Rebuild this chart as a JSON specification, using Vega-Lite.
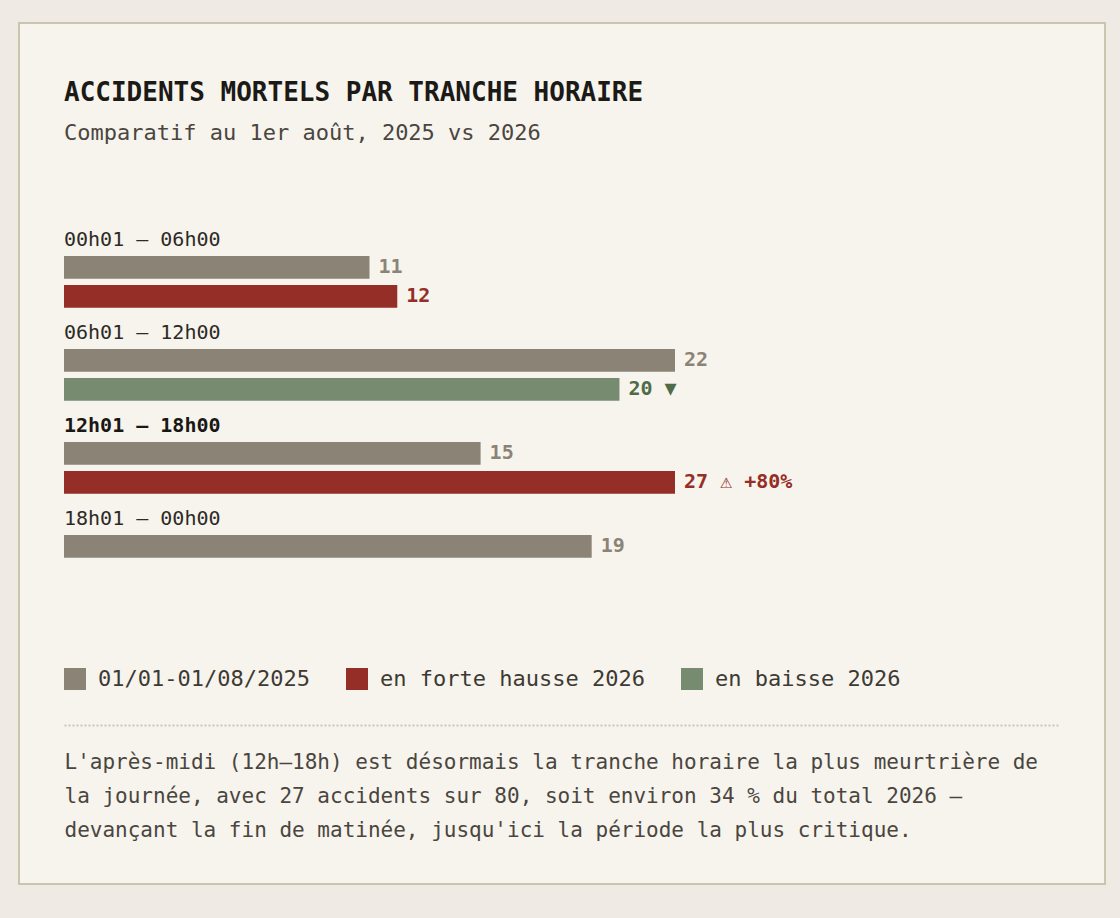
{
  "$schema": "https://vega.github.io/schema/vega-lite/v6.json",
  "autosize": {"type": "none"},
  "width": 1086,
  "height": 861,
  "padding": {"left": 19, "top": 23, "right": 15, "bottom": 34},
  "background": "#efebe4",
  "title": {
    "text": "ACCIDENTS MORTELS PAR TRANCHE HORAIRE",
    "subtitle": "Comparatif au 1er août, 2025 vs 2026",
    "anchor": "start",
    "frame": "group",
    "dx": 45,
    "offset": -121,
    "font": "DejaVu Sans Mono",
    "fontSize": 26,
    "fontWeight": "bold",
    "color": "#1c1a17",
    "subtitleFont": "DejaVu Sans Mono",
    "subtitleFontSize": 22,
    "subtitleColor": "#4a463f",
    "subtitlePadding": 17
  },
  "datasets": {
    "barres": [
      {"tranche": "00h01 – 06h00", "periode": "2025", "valeur": 11, "statut": "01/01-01/08/2025", "etiquette": "11"},
      {"tranche": "00h01 – 06h00", "periode": "2026", "valeur": 12, "statut": "en forte hausse 2026", "etiquette": "12"},
      {"tranche": "06h01 – 12h00", "periode": "2025", "valeur": 22, "statut": "01/01-01/08/2025", "etiquette": "22"},
      {"tranche": "06h01 – 12h00", "periode": "2026", "valeur": 20, "statut": "en baisse 2026", "etiquette": "20 ▼"},
      {"tranche": "12h01 – 18h00", "periode": "2025", "valeur": 15, "statut": "01/01-01/08/2025", "etiquette": "15"},
      {"tranche": "12h01 – 18h00", "periode": "2026", "valeur": 27, "statut": "en forte hausse 2026", "etiquette": "27 ⚠ +80%"},
      {"tranche": "18h01 – 00h00", "periode": "2025", "valeur": 19, "statut": "01/01-01/08/2025", "etiquette": "19"}
    ],
    "tranches": [
      {"tranche": "00h01 – 06h00", "vedette": false},
      {"tranche": "06h01 – 12h00", "vedette": false},
      {"tranche": "12h01 – 18h00", "vedette": true},
      {"tranche": "18h01 – 00h00", "vedette": false}
    ]
  },
  "layer": [
    {
      "data": {"name": "barres"},
      "mark": {"type": "bar"},
      "encoding": {
        "y": {
          "field": "tranche",
          "type": "nominal",
          "sort": null,
          "axis": null,
          "scale": {
            "domain": ["00h01 – 06h00", "06h01 – 12h00", "12h01 – 18h00", "18h01 – 00h00"],
            "range": [203.5, 575.5],
            "paddingInner": 0,
            "paddingOuter": 0
          }
        },
        "yOffset": {
          "field": "periode",
          "type": "nominal",
          "scale": {"domain": ["2025", "2026"], "paddingInner": 0.217, "paddingOuter": 0.712, "align": 0.714}
        },
        "x": {
          "field": "valeur",
          "type": "quantitative",
          "axis": null,
          "scale": {"domain": [0, 22], "range": [45, 656], "clamp": true, "nice": false, "zero": true}
        },
        "color": {
          "field": "statut",
          "type": "nominal",
          "scale": {
            "domain": ["01/01-01/08/2025", "en forte hausse 2026", "en baisse 2026"],
            "range": ["#8b8376", "#952e27", "#778b70"]
          },
          "legend": {
            "orient": "none",
            "legendX": 45,
            "legendY": 645,
            "direction": "horizontal",
            "title": null,
            "symbolType": "square",
            "symbolSize": 484,
            "symbolStrokeWidth": 0,
            "symbolOpacity": 1,
            "labelFont": "DejaVu Sans Mono",
            "labelFontSize": 22,
            "labelColor": "#3d3a34",
            "labelOffset": 12,
            "labelLimit": 400,
            "columnPadding": 36
          }
        }
      }
    },
    {
      "data": {"name": "barres"},
      "mark": {"type": "text", "align": "left", "baseline": "middle", "dx": 9, "font": "DejaVu Sans Mono", "fontSize": 20, "fontWeight": "bold"},
      "encoding": {
        "y": {"field": "tranche", "type": "nominal", "sort": null},
        "yOffset": {
          "field": "periode",
          "type": "nominal",
          "scale": {"domain": ["2025", "2026"], "paddingInner": 0.217, "paddingOuter": 0.712, "align": 0.714}
        },
        "x": {
          "field": "valeur",
          "type": "quantitative",
          "axis": null,
          "scale": {"domain": [0, 22], "range": [45, 656], "clamp": true, "nice": false, "zero": true}
        },
        "text": {"field": "etiquette"},
        "color": {
          "field": "statut",
          "type": "nominal",
          "legend": null,
          "scale": {
            "domain": ["01/01-01/08/2025", "en forte hausse 2026", "en baisse 2026"],
            "range": ["#8b8376", "#952e27", "#4f6b48"]
          }
        }
      }
    },
    {
      "data": {"name": "tranches"},
      "mark": {
        "type": "text",
        "align": "left",
        "baseline": "middle",
        "font": "DejaVu Sans Mono",
        "fontSize": 20,
        "fontWeight": {"expr": "datum.vedette ? 'bold' : 'normal'"}
      },
      "encoding": {
        "y": {"field": "tranche", "type": "nominal", "sort": null, "bandPosition": 0.148},
        "x": {
          "datum": 0,
          "type": "quantitative",
          "scale": {"domain": [0, 1], "range": [45, 1041], "nice": false},
          "axis": {
            "orient": "bottom",
            "offset": -159,
            "labels": false,
            "ticks": false,
            "grid": false,
            "domain": true,
            "domainColor": "#c9c6ba",
            "domainDash": [2, 2],
            "domainWidth": 2,
            "title": [
              "L'après-midi (12h–18h) est désormais la tranche horaire la plus meurtrière de",
              "la journée, avec 27 accidents sur 80, soit environ 34 % du total 2026 —",
              "devançant la fin de matinée, jusqu'ici la période la plus critique."
            ],
            "titleFont": "DejaVu Sans Mono",
            "titleFontSize": 21,
            "titleFontWeight": "normal",
            "titleColor": "#4a463f",
            "titleAnchor": "start",
            "titleAlign": "left",
            "titleBaseline": "top",
            "titleLineHeight": 34,
            "titlePadding": 26
          }
        },
        "text": {"field": "tranche"},
        "color": {
          "condition": {"test": "datum.vedette", "value": "#1a1815"},
          "value": "#2d2a26"
        }
      }
    }
  ],
  "resolve": {
    "scale": {"x": "independent", "color": "independent"},
    "axis": {"x": "independent"}
  },
  "config": {
    "view": {"fill": "#f7f4ed", "stroke": "#c9c5ae", "strokeWidth": 2}
  }
}
